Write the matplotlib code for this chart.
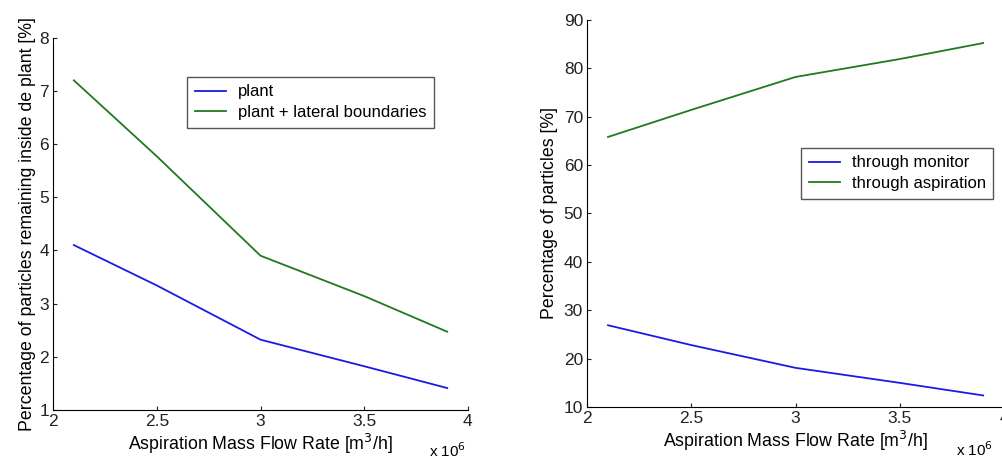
import matplotlib
matplotlib.use("Agg")
from matplotlib import pyplot as plt

plt.rcParams['font.family'] = ['Liberation Sans', 'DejaVu Sans']

# flow rate in units of 1e6 m3/h
flow = [2.1, 2.5, 3.0, 3.5, 3.9]

# left: remaining inside plant [%]
plant = [4.1, 3.34, 2.32, 1.82, 1.41]
plant_lat = [7.2, 5.77, 3.9, 3.14, 2.47]

# right: percentage of particles [%]
monitor = [26.9, 22.8, 18.1, 15.0, 12.4]
aspiration = [65.8, 71.4, 78.2, 81.9, 85.2]

blue = '#1a1ae6'
green = '#1f7a1f'

fig = plt.figure(figsize=(10.02, 4.61), dpi=100)

ax1 = fig.add_axes([0.053, 0.111, 0.414, 0.807])
ax2 = fig.add_axes([0.586, 0.117, 0.416, 0.840])

def style(ax, xpos):
    for s in ['top', 'right']:
        ax.spines[s].set_visible(False)
    ax.tick_params(direction='in', length=3, labelsize=12.5, colors='#222222', pad=3)
    ax.set_xlim(2, 4)
    ax.set_xticks([2, 2.5, 3, 3.5, 4])
    ax.set_xticklabels(['2', '2.5', '3', '3.5', '4'])
    ax.set_xlabel('Aspiration Mass Flow Rate [m$^3$/h]', fontsize=12.8, labelpad=2)
    ax.text(xpos, -0.085, 'x 10$^6$', transform=ax.transAxes, fontsize=11,
            ha='center', va='top')

leg_kw = dict(loc='upper left', fontsize=12, fancybox=False, edgecolor='#555555',
              framealpha=1, handlelength=1.9, handletextpad=0.7, borderpad=0.45,
              labelspacing=0.35, borderaxespad=0)

# left panel
ax1.plot(flow, plant, color=blue, lw=1.3, label='plant')
ax1.plot(flow, plant_lat, color=green, lw=1.3, label='plant + lateral boundaries')
ax1.set_ylim(1, 8)
ax1.set_yticks(range(1, 9))
ax1.set_ylabel('Percentage of particles remaining inside de plant [%]', fontsize=12.8,
               labelpad=2)
style(ax1, 0.95)
ax1.legend(bbox_to_anchor=(0.323, 0.895), **leg_kw)

# right panel
ax2.plot(flow, monitor, color=blue, lw=1.3, label='through monitor')
ax2.plot(flow, aspiration, color=green, lw=1.3, label='through aspiration')
ax2.set_ylim(10, 90)
ax2.set_yticks(range(10, 91, 10))
ax2.set_ylabel('Percentage of particles [%]', fontsize=12.8)
style(ax2, 0.93)
ax2.legend(bbox_to_anchor=(0.513, 0.669), **leg_kw)

fig.savefig('out.png', dpi=100)
